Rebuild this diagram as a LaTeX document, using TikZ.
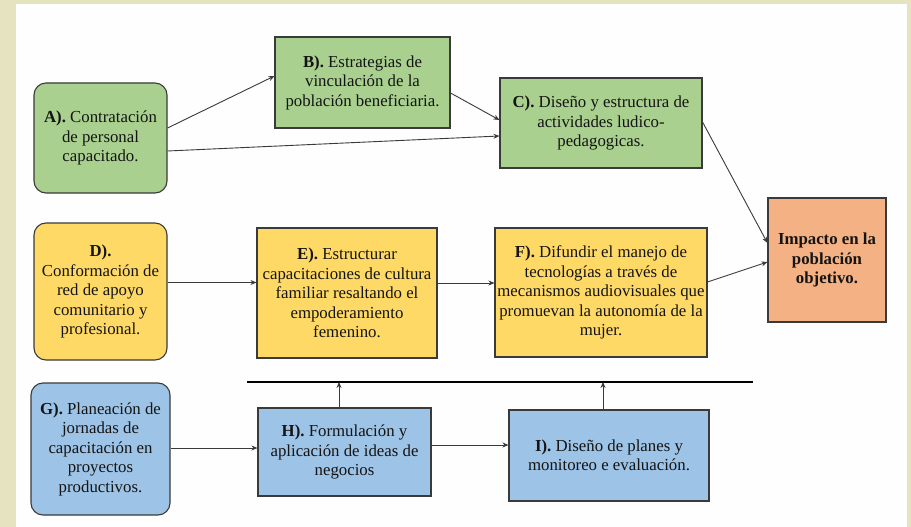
\documentclass[tikz,border=0pt]{standalone}
\usepackage{fontspec}
\setmainfont{Liberation Serif}
\usetikzlibrary{arrows.meta,calc}
\definecolor{bgbeige}{HTML}{E6E3C0}
\definecolor{gfill}{HTML}{A9D08E}
\definecolor{yfill}{HTML}{FFD966}
\definecolor{bfill}{HTML}{9DC3E6}
\definecolor{ofill}{HTML}{F4B183}
\definecolor{edge}{HTML}{3A3A3A}
\definecolor{txt}{HTML}{141414}
\tikzset{
  x=1pt, y=-1pt,
  box/.style={draw=edge, line width=1.1pt, align=center, inner sep=1pt,
    font=\fontsize{16.8}{19.5}\selectfont, text=txt},
  rbox/.style={box, rounded corners=12pt},
  arr/.style={draw=edge, line width=0.9pt, -{Stealth[length=6pt,width=5pt]}},
  bar/.style={draw=black, line width=2.6pt}
}
\begin{document}
\begin{tikzpicture}
\useasboundingbox (0,0) rectangle (911,527);
\fill[bgbeige] (0,0) rectangle (911,527);
\fill[white!98!bgbeige] (16,4) rectangle (907,527);

\node[rbox, fill=gfill, minimum width=133pt, minimum height=110pt] (A) at (100.5,138)
  {\textbf{A).} Contratación\\de personal\\capacitado.};
\node[box, fill=gfill, minimum width=175pt, minimum height=91pt] (B) at (362.5,82.5)
  {\textbf{B).} Estrategias de\\vinculación de la\\población beneficiaria.};
\node[box, fill=gfill, minimum width=202pt, minimum height=90pt] (C) at (601,123)
  {\textbf{C).} Diseño y estructura de\\actividades ludico-\\pedagogicas.};
\node[box, fill=ofill, minimum width=118pt, minimum height=124pt] (P) at (827,260)
  {\textbf{Impacto en la}\\\textbf{población}\\\textbf{objetivo.}};

\node[rbox, fill=yfill, minimum width=133pt, minimum height=137pt] (D) at (100.5,291.5)
  {\textbf{D).}\\Conformación de\\red de apoyo\\comunitario y\\profesional.};
\node[box, fill=yfill, minimum width=180pt, minimum height=130pt] (E) at (347,293)
  {\textbf{E).} Estructurar\\capacitaciones de cultura\\familiar resaltando el\\empoderamiento\\femenino.};
\node[box, fill=yfill, minimum width=212pt, minimum height=129pt] (F) at (601,292.5)
  {\textbf{F).} Difundir el manejo de\\tecnologías a través de\\mecanismos audiovisuales que\\promuevan la autonomía de la\\mujer.};

\node[rbox, fill=bfill, minimum width=139pt, minimum height=132pt] (G) at (100.5,449)
  {\textbf{G).} Planeación de\\jornadas de\\capacitación en\\proyectos\\productivos.};
\node[box, fill=bfill, minimum width=173pt, minimum height=88pt] (H) at (344.5,452)
  {\textbf{H).} Formulación y\\aplicación de ideas de\\negocios};
\node[box, fill=bfill, minimum width=200pt, minimum height=91pt] (I) at (609,455.5)
  {\textbf{I).} Diseño de planes y\\monitoreo e evaluación.};

\coordinate (bl) at (247,382);
\coordinate (br) at (753,382);
\draw[bar] (bl) -- (br);

\draw[arr] ([yshift=10pt]A.east) -- ([yshift=6.5pt]B.west);
\draw[arr] ([yshift=-13pt]A.east) -- ([yshift=-13pt]C.west);
\draw[arr] ([yshift=-10.5pt]B.east) -- ([yshift=3pt]C.west);
\draw[arr] ([yshift=1pt]C.east) -- ([yshift=17pt]P.west);
\draw[arr] ([yshift=10.5pt]F.east) -- ([yshift=-2pt]P.west);
\draw[arr] ([yshift=9pt]D.east) -- ([yshift=9pt]D.east -| E.west);
\draw[arr] ([yshift=10pt]E.east) -- ([yshift=10pt]E.east -| F.west);
\draw[arr] ([yshift=1pt]G.east) -- ([yshift=1pt]G.east -| H.west);
\draw[arr] ([yshift=7pt]H.east) -- ([yshift=7pt]H.east -| I.west);
\draw[arr] ([xshift=-5.5pt]H.north) -- ([xshift=-5.5pt]H.north |- bl);
\draw[arr] ([xshift=-6pt]I.north) -- ([xshift=-6pt]I.north |- br);
\end{tikzpicture}
\end{document}
